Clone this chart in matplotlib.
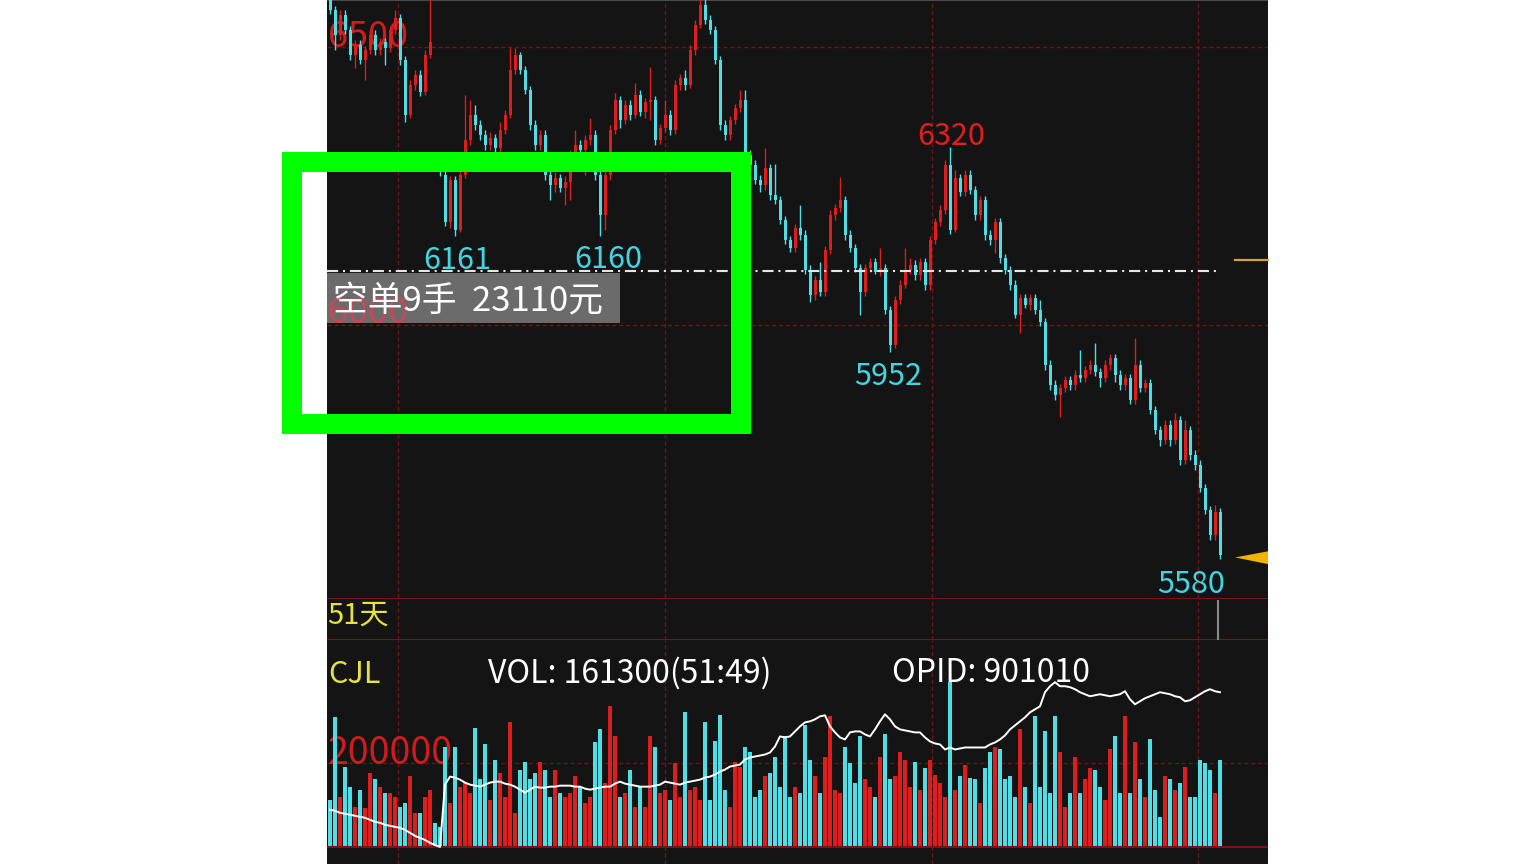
import numpy as np
import matplotlib.pyplot as plt
from matplotlib.patches import Rectangle, Polygon

plt.rcParams['font.family'] = ['Noto Sans CJK SC', 'DejaVu Sans']
plt.rcParams['lines.scale_dashes'] = False

# K线数据（价格）
opens = [6612, 6567, 6522, 6558, 6531, 6486, 6504, 6477, 6495, 6522,
         6495, 6509, 6499, 6531, 6553, 6477, 6378, 6432, 6450, 6419,
         6486, 6297, 6288, 6270, 6185, 6261, 6171, 6270, 6333, 6378,
         6360, 6342, 6324, 6337, 6319, 6351, 6378, 6459, 6486, 6459,
         6423, 6360, 6324, 6342, 6270, 6252, 6265, 6247, 6257, 6297,
         6324, 6315, 6333, 6342, 6270, 6198, 6270, 6351, 6405, 6369,
         6396, 6378, 6414, 6383, 6401, 6405, 6333, 6355, 6378, 6351,
         6432, 6445, 6432, 6495, 6540, 6576, 6549, 6531, 6477, 6360,
         6342, 6369, 6391, 6405, 6306, 6288, 6261, 6252, 6283, 6234,
         6225, 6189, 6153, 6139, 6175, 6162, 6099, 6054, 6081, 6059,
         6135, 6198, 6211, 6225, 6162, 6139, 6103, 6059, 6103, 6113,
         6095, 6103, 6027, 5964, 6045, 6072, 6099, 6108, 6090, 6113,
         6072, 6153, 6185, 6207, 6288, 6171, 6265, 6239, 6270, 6243,
         6198, 6225, 6162, 6153, 6185, 6121, 6099, 6072, 6018, 6049,
         6036, 6049, 6027, 6005, 5928, 5892, 5874, 5887, 5901, 5892,
         5910, 5905, 5919, 5928, 5915, 5905, 5928, 5941, 5910, 5892,
         5905, 5865, 5928, 5887, 5896, 5847, 5811, 5793, 5820, 5793,
         5829, 5757, 5811, 5766, 5748, 5707, 5667, 5622, 5663]
highs = [6621, 6574, 6567, 6567, 6538, 6513, 6513, 6502, 6531, 6531,
         6517, 6517, 6538, 6567, 6560, 6484, 6441, 6459, 6459, 6495,
         6594, 6306, 6301, 6279, 6268, 6268, 6279, 6414, 6405, 6396,
         6369, 6351, 6347, 6344, 6365, 6387, 6499, 6499, 6491, 6466,
         6430, 6369, 6351, 6351, 6279, 6275, 6272, 6268, 6315, 6351,
         6333, 6342, 6373, 6351, 6279, 6279, 6360, 6418, 6412, 6405,
         6405, 6436, 6423, 6409, 6464, 6412, 6362, 6405, 6387, 6441,
         6452, 6459, 6504, 6549, 6594, 6594, 6558, 6538, 6484, 6369,
         6376, 6398, 6423, 6423, 6315, 6297, 6270, 6318, 6290, 6290,
         6232, 6196, 6160, 6182, 6216, 6171, 6108, 6088, 6113, 6142,
         6207, 6218, 6266, 6232, 6171, 6146, 6110, 6110, 6121, 6121,
         6139, 6110, 6034, 6052, 6081, 6139, 6121, 6117, 6121, 6121,
         6160, 6193, 6216, 6297, 6320, 6279, 6272, 6279, 6279, 6250,
         6232, 6232, 6171, 6193, 6193, 6128, 6106, 6081, 6056, 6056,
         6056, 6056, 6045, 6013, 5937, 5901, 5894, 5908, 5908, 5919,
         5955, 5926, 5937, 5968, 5923, 5937, 5948, 5948, 5919, 5912,
         5912, 5977, 5937, 5903, 5903, 5854, 5818, 5829, 5829, 5842,
         5836, 5829, 5818, 5775, 5757, 5714, 5674, 5676, 5671]
lows = [6560, 6495, 6513, 6524, 6477, 6463, 6470, 6441, 6488, 6486,
        6486, 6468, 6491, 6524, 6468, 6365, 6373, 6423, 6412, 6414,
        6481, 6279, 6268, 6178, 6175, 6161, 6167, 6265, 6324, 6351,
        6333, 6315, 6315, 6311, 6311, 6344, 6373, 6452, 6452, 6416,
        6351, 6315, 6315, 6261, 6225, 6239, 6239, 6216, 6225, 6290,
        6306, 6270, 6324, 6261, 6160, 6171, 6261, 6344, 6355, 6362,
        6369, 6373, 6376, 6373, 6369, 6324, 6326, 6347, 6342, 6344,
        6423, 6423, 6427, 6486, 6535, 6542, 6524, 6470, 6351, 6333,
        6333, 6362, 6383, 6297, 6279, 6254, 6239, 6243, 6225, 6218,
        6182, 6146, 6131, 6131, 6153, 6092, 6041, 6045, 6052, 6052,
        6128, 6189, 6203, 6153, 6131, 6095, 6018, 6052, 6095, 6092,
        6088, 6020, 5952, 5959, 6038, 6067, 6092, 6081, 6081, 6063,
        6063, 6146, 6178, 6200, 6164, 6167, 6232, 6232, 6236, 6189,
        6189, 6153, 6144, 6130, 6112, 6092, 6063, 6013, 5986, 6031,
        6027, 6020, 5998, 5919, 5883, 5865, 5834, 5879, 5883, 5883,
        5897, 5897, 5912, 5908, 5888, 5897, 5919, 5897, 5883, 5883,
        5858, 5858, 5879, 5879, 5840, 5804, 5782, 5786, 5782, 5786,
        5748, 5750, 5757, 5739, 5699, 5660, 5613, 5613, 5580]
closes = [6567, 6522, 6558, 6531, 6486, 6504, 6477, 6495, 6522, 6495,
          6509, 6499, 6531, 6553, 6477, 6378, 6432, 6450, 6419, 6486,
          6509, 6288, 6275, 6185, 6261, 6171, 6270, 6333, 6378, 6360,
          6342, 6324, 6337, 6319, 6351, 6378, 6459, 6486, 6459, 6423,
          6360, 6324, 6342, 6270, 6252, 6265, 6247, 6257, 6297, 6324,
          6315, 6333, 6342, 6270, 6198, 6270, 6351, 6405, 6369, 6396,
          6378, 6414, 6383, 6401, 6405, 6333, 6355, 6378, 6351, 6432,
          6445, 6432, 6495, 6540, 6576, 6549, 6531, 6477, 6360, 6342,
          6369, 6391, 6405, 6306, 6288, 6261, 6252, 6283, 6234, 6225,
          6189, 6153, 6139, 6175, 6162, 6099, 6054, 6081, 6059, 6135,
          6198, 6211, 6225, 6162, 6139, 6103, 6059, 6103, 6113, 6095,
          6103, 6027, 5964, 6045, 6072, 6099, 6108, 6090, 6113, 6072,
          6153, 6185, 6207, 6288, 6171, 6265, 6239, 6270, 6243, 6198,
          6225, 6162, 6153, 6185, 6121, 6099, 6072, 6018, 6049, 6036,
          6049, 6027, 6005, 5928, 5892, 5874, 5887, 5901, 5892, 5910,
          5905, 5919, 5928, 5915, 5905, 5928, 5941, 5910, 5892, 5905,
          5865, 5928, 5887, 5896, 5847, 5811, 5793, 5820, 5793, 5829,
          5757, 5811, 5766, 5748, 5707, 5667, 5622, 5663, 5586]

# 成交量
volumes = [112000, 307000, 119000, 190000, 143000, 95000, 136000, 93000, 176000, 160000,
           143000, 129000, 129000, 119000, 95000, 105000, 167000, 81000, 81000, 119000,
           136000, 57000, 48000, 236000, 105000, 238000, 143000, 152000, 129000, 283000,
           160000, 243000, 112000, 207000, 176000, 119000, 295000, 81000, 183000, 202000,
           160000, 176000, 202000, 183000, 119000, 183000, 129000, 119000, 129000, 167000,
           143000, 105000, 119000, 248000, 279000, 152000, 333000, 262000, 119000, 129000,
           183000, 95000, 143000, 95000, 262000, 236000, 129000, 136000, 112000, 200000,
           119000, 321000, 136000, 143000, 112000, 295000, 112000, 250000, 312000, 136000,
           95000, 202000, 190000, 238000, 224000, 119000, 136000, 167000, 176000, 214000,
           143000, 262000, 119000, 143000, 129000, 290000, 207000, 167000, 129000, 214000,
           310000, 136000, 129000, 238000, 200000, 152000, 262000, 160000, 143000, 119000,
           214000, 267000, 160000, 167000, 224000, 207000, 143000, 202000, 136000, 188000,
           207000, 171000, 152000, 119000, 390000, 136000, 167000, 195000, 164000, 160000,
           105000, 188000, 224000, 238000, 231000, 160000, 167000, 119000, 279000, 143000,
           105000, 310000, 143000, 274000, 129000, 310000, 224000, 95000, 129000, 214000,
           129000, 160000, 188000, 183000, 143000, 112000, 231000, 262000, 129000, 310000,
           129000, 248000, 160000, 119000, 255000, 136000, 71000, 167000, 160000, 136000,
           152000, 190000, 119000, 119000, 207000, 200000, 183000, 129000, 207000]

# 持仓量
open_interest = [842000, 841500, 840500, 840000, 839500, 839000, 838500, 838000, 837000, 836000,
                 835500, 834500, 834000, 833500, 833000, 832000, 830500, 829000, 828000, 827000,
                 825500, 824500, 823500,
                 854500, 858500, 858000, 857000, 855500, 854500, 854000, 853500, 854500, 855500,
                 856000, 856000, 855000, 854500, 853500, 852000, 850500, 852000, 853500, 853000,
                 853000, 853500, 853500, 854000, 854000, 854000, 853500, 853500, 852500, 852000,
                 852500, 853000, 853500, 853500, 855000, 856000, 855000, 854500, 854000, 853500,
                 853500, 853500, 854000, 854500, 856000, 855500, 855000, 854500, 855500, 856000,
                 856500, 857000, 858000, 858500, 859500, 861000, 862000, 863500, 864000, 864500,
                 867000, 868000, 868500, 869000, 869500, 870500, 873500, 878500, 878000, 878500,
                 881000, 883500, 885500, 886000, 887000, 888500, 889000, 883500, 880500, 878000,
                 877000, 880500, 881000, 881000, 879500, 878500, 882000, 886000, 889500, 887000,
                 883500, 882000, 881500, 881000, 880500, 880500, 878000, 876000, 875000, 874500,
                 872000, 873000, 872000, 872500, 873000, 873000, 873000, 873000, 873000, 874500,
                 875500, 877000, 879000, 882000, 884000, 886000, 888000, 890500, 892000, 893500,
                 900500, 903500, 905500, 903500, 903500, 903000, 902000, 900500, 899500, 898500,
                 899000, 899500, 899000, 898500, 899000, 899500, 901000, 897000, 894500, 896000,
                 897500, 898500, 899500, 900500, 900000, 899500, 898500, 898000, 896000, 896500,
                 898000, 899500, 901000, 902000, 901000, 900500]

# 高低点标注 (K线序号, 价格, 颜色)
extremes = [(25, 6161, 'cyan'), (54, 6160, 'cyan'), (112, 5952, 'cyan'),
            (124, 6320, 'red'), (178, 5580, 'cyan')]
day_lines = [13.6, 67, 120.4, 173.6]
avg_price = 6097
last_price = 5582
mark_price = 6117

BG = '#141414'
RED = '#dc1e1e'
CYAN = '#4fdde6'
GRID = '#6e1414'
W, H = 1536, 864


def box(x0, y0, x1, y1):
    return [x0 / W, 1 - y1 / H, (x1 - x0) / W, (y1 - y0) / H]


fig = plt.figure(figsize=(15.36, 8.64), dpi=100, facecolor='white')
ax_p = fig.add_axes(box(327, 0, 1268, 598), facecolor=BG)
ax_m = fig.add_axes(box(327, 598, 1268, 640), facecolor=BG)
ax_v = fig.add_axes(box(327, 640, 1268, 864), facecolor=BG)

N = len(closes)
x = np.arange(N)
o = np.array(opens); c = np.array(closes)
hi = np.array(highs); lo = np.array(lows)
up = c >= o
cols = np.where(up, RED, CYAN)

for ax in (ax_p, ax_m, ax_v):
    ax.set_xlim(-0.6, 187.6)
    ax.set_xticks([]); ax.set_yticks([])
    for s in ax.spines.values():
        s.set_visible(False)
    for d in day_lines:
        ax.axvline(d, color=GRID, lw=1, ls=(0, (3, 2)), zorder=1)

# 主图
ax_p.set_ylim(5509, 6585)
for lvl in (6500, 6000):
    ax_p.axhline(lvl, color=GRID, lw=1, ls=(0, (3, 2)), zorder=1)
ax_p.axhline(6585, color='#4a4a4a', lw=1.5, zorder=1)
ax_p.text(-0.5, 6501, '6500', color='#d01c1c', fontsize=26, va='baseline', ha='left', zorder=1)

ax_p.vlines(x, lo, hi, colors=cols, lw=1, zorder=3)
body_low = np.minimum(o, c)
body_h = np.maximum(np.abs(c - o), 2)
ax_p.bar(x, body_h, bottom=body_low, width=0.6, color=cols, linewidth=0, zorder=3)

ax_p.plot([-0.6, 178], [avg_price, avg_price], color='#e6e6e6', lw=1.5,
          ls=(0, (8, 3.5, 1.5, 3.5)), zorder=4)

ax_p.add_patch(Rectangle((-0.6, 6004), 58.6, 90, facecolor='#6b6b6b', edgecolor='none', zorder=5))
ax_p.text(-0.5, 6004, '6000', color='#e04050', alpha=0.75, fontsize=26, va='baseline', ha='left', zorder=6)
ax_p.text(0.6, 6027, '空单9手  23110元', color='white', fontsize=25, va='baseline', ha='left', zorder=7)

offsets = {25: (2, -33), 54: (8, -32), 112: (-2, -33), 124: (1, 2), 178: (-29, -34)}
for idx, price, kind in extremes:
    col = '#e01e1e' if kind == 'red' else '#42d4e0'
    ax_p.annotate(f'{price}', xy=(idx, price), xytext=offsets[idx], textcoords='offset pixels',
                  color=col, fontsize=22, ha='center', va='baseline', zorder=8)

ax_p.plot([181, 187.6], [mark_price, mark_price], color='#d4a040', lw=1.6, zorder=4, clip_on=False)
ax_p.add_patch(Polygon([[181, last_price], [187.6, last_price + 11], [187.6, last_price - 12]],
                       closed=True, facecolor='#f2b400', edgecolor='none', zorder=4))

# 中间栏
ax_m.set_ylim(0, 1)
ax_m.axhline(1, color='#7a1414', lw=1.5)
ax_m.axhline(0, color='#7a1414', lw=1.5)
ax_m.vlines(177.6, 0.0, 0.95, color='#8a8a8a', lw=1.5)
ax_m.text(-0.6, 0.4, '51天', color='#e8e23c', fontsize=21, va='baseline', ha='left')

# 成交量
ax_v.set_ylim(-40477, 490486)
ax_v.axhline(200000, color=GRID, lw=1, ls=(0, (3, 2)), zorder=1)
ax_v.axhline(0, color='#7a1414', lw=1.5, zorder=4)
ax_v.text(-0.5, 196000, '200000', color='#d01c1c', fontsize=27, va='baseline', ha='left', zorder=1)
ax_v.bar(x, volumes, width=0.62, color=cols, linewidth=0, zorder=3)

ax_oi = ax_v.twinx()
ax_oi.set_ylim(815000, 926500)
ax_oi.set_yticks([])
for s in ax_oi.spines.values():
    s.set_visible(False)
ax_oi.plot(x, open_interest, color='white', lw=1.4, zorder=5)

# 叠加层（像素坐标）
ov = fig.add_axes([0, 0, 1, 1], facecolor='none')
ov.set_xlim(0, W); ov.set_ylim(H, 0); ov.axis('off')
ov.text(328, 683, 'CJL', color='#e8e23c', fontsize=22, va='baseline', ha='left')
ov.text(488, 683, 'VOL: 161300(51:49)', color='white', fontsize=23, va='baseline', ha='left')
ov.text(892, 682, 'OPID: 901010', color='white', fontsize=23, va='baseline', ha='left')
ov.add_patch(Rectangle((292, 162), 449, 262, facecolor='none', edgecolor='#00ff00',
                       lw=14.4, joinstyle='miter'))

fig.savefig('out.png', dpi=100, facecolor='white')
